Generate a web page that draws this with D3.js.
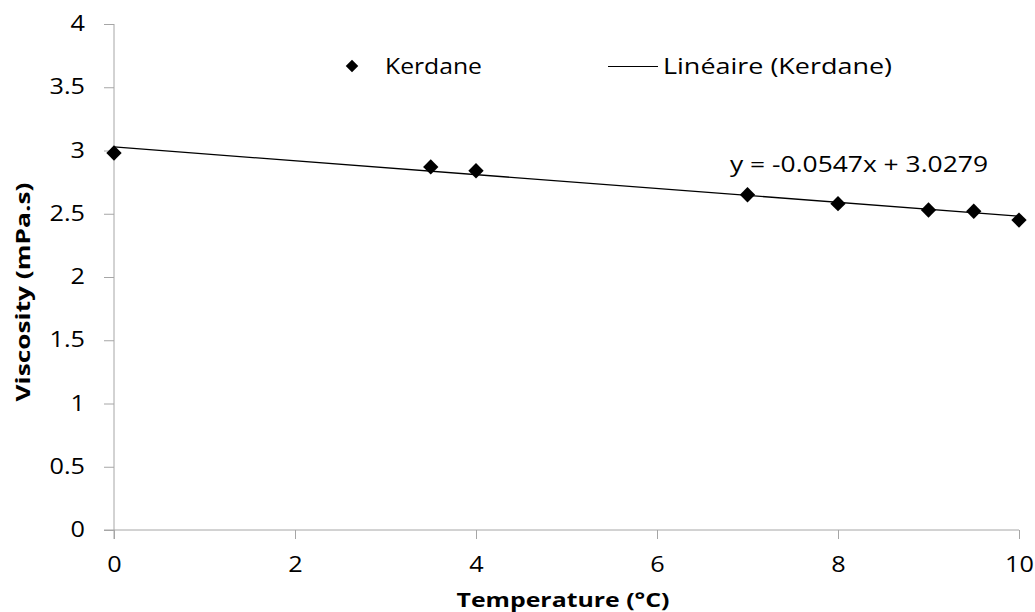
<!DOCTYPE html>
<html>
<head>
<meta charset="utf-8">
<script src="https://cdn.jsdelivr.net/npm/d3@7"></script>
<style>
  body { margin: 0; background: #fff; }
  svg { display: block; font-family: "Open Sans", sans-serif; }
</style>
</head>
<body>
<svg id="chart" width="1035" height="612"></svg>
<script>
const temperature = [0, 3.5, 4, 7, 8, 9, 9.5, 10];
const viscosity = [2.98, 2.87, 2.84, 2.65, 2.58, 2.53, 2.52, 2.45];
const slope = -0.0547;
const intercept = 3.0279;
const xTicks = [0, 2, 4, 6, 8, 10];
const yTicks = [0, 0.5, 1, 1.5, 2, 2.5, 3, 3.5, 4];

const svg = d3.select("#chart");

const x = d3.scaleLinear().domain([0, 10]).range([114, 1019]);
const y = d3.scaleLinear().domain([0, 4]).range([530, 24]);

const axisColor = "#a6a6a6";

// the source picture is stretched sideways, so widen the glyphs a bit
const widen = (sel, k) => {
  sel.each(function () {
    const w = this.getComputedTextLength();
    d3.select(this)
      .attr("textLength", w * k)
      .attr("lengthAdjust", "spacingAndGlyphs");
  });
};

// y axis
const yAxis = svg
  .append("g")
  .attr("transform", `translate(${x(0)},0)`)
  .call(
    d3.axisLeft(y).tickValues(yTicks).tickSize(10).tickPadding(19)
      .tickFormat((d) => d)
  );
yAxis.select(".domain").attr("stroke", axisColor).attr("d", `M0,${y(4)}V${y(0) + 9}`);
yAxis.selectAll(".tick line").attr("stroke", axisColor);
yAxis.selectAll(".tick text")
  .attr("font-family", "Open Sans, sans-serif")
  .attr("font-size", 21)
  .attr("fill", "#000")
  .call(widen, 1.2);

// x axis
const xAxis = svg
  .append("g")
  .attr("transform", `translate(0,${y(0)})`)
  .call(d3.axisBottom(x).tickValues(xTicks).tickSize(9).tickPadding(18));
xAxis.select(".domain").attr("stroke", axisColor).attr("d", `M${x(0) - 10},0H${x(10)}`);
xAxis.selectAll(".tick line").attr("stroke", axisColor);
xAxis.selectAll(".tick text")
  .attr("font-family", "Open Sans, sans-serif")
  .attr("font-size", 21)
  .attr("fill", "#000")
  .call(widen, 1.2);

// trend line
svg
  .append("line")
  .attr("x1", x(0))
  .attr("y1", y(intercept))
  .attr("x2", x(10))
  .attr("y2", y(intercept + slope * 10))
  .attr("stroke", "#000")
  .attr("stroke-width", 1.3);

// points
const diamond = d3.symbol().type(d3.symbolDiamond2).size(150);
svg
  .selectAll(".pt")
  .data(temperature)
  .enter()
  .append("path")
  .attr("class", "pt")
  .attr("d", diamond)
  .attr("transform", (d, i) => `translate(${x(d)},${y(viscosity[i])})`)
  .attr("fill", "#000");

// equation
svg
  .append("text")
  .attr("x", 730)
  .attr("y", 172)
  .attr("font-size", 21)
  .attr("textLength", 258)
  .attr("lengthAdjust", "spacingAndGlyphs")
  .text("y = -0.0547x + 3.0279");

// legend
svg
  .append("path")
  .attr("d", d3.symbol().type(d3.symbolDiamond2).size(100))
  .attr("transform", "translate(352,66)")
  .attr("fill", "#000");
svg
  .append("text")
  .attr("x", 385)
  .attr("y", 74)
  .attr("font-size", 21)
  .attr("textLength", 97)
  .attr("lengthAdjust", "spacingAndGlyphs")
  .text("Kerdane");
svg
  .append("line")
  .attr("x1", 608)
  .attr("x2", 658)
  .attr("y1", 66.5)
  .attr("y2", 66.5)
  .attr("stroke", "#000")
  .attr("stroke-width", 1.2);
svg
  .append("text")
  .attr("x", 663)
  .attr("y", 74)
  .attr("font-size", 21)
  .attr("textLength", 229)
  .attr("lengthAdjust", "spacingAndGlyphs")
  .text("Linéaire (Kerdane)");

// axis titles
svg
  .append("text")
  .attr("x", 563)
  .attr("y", 607)
  .attr("text-anchor", "middle")
  .attr("font-weight", "bold")
  .attr("font-size", 20)
  .attr("textLength", 213)
  .attr("lengthAdjust", "spacingAndGlyphs")
  .text("Temperature (°C)");
svg
  .append("text")
  .attr("transform", "translate(30,292) rotate(-90)")
  .attr("text-anchor", "middle")
  .attr("font-weight", "bold")
  .attr("font-size", 20)
  .attr("textLength", 219)
  .attr("lengthAdjust", "spacingAndGlyphs")
  .text("Viscosity (mPa.s)");
</script>
</body>
</html>
